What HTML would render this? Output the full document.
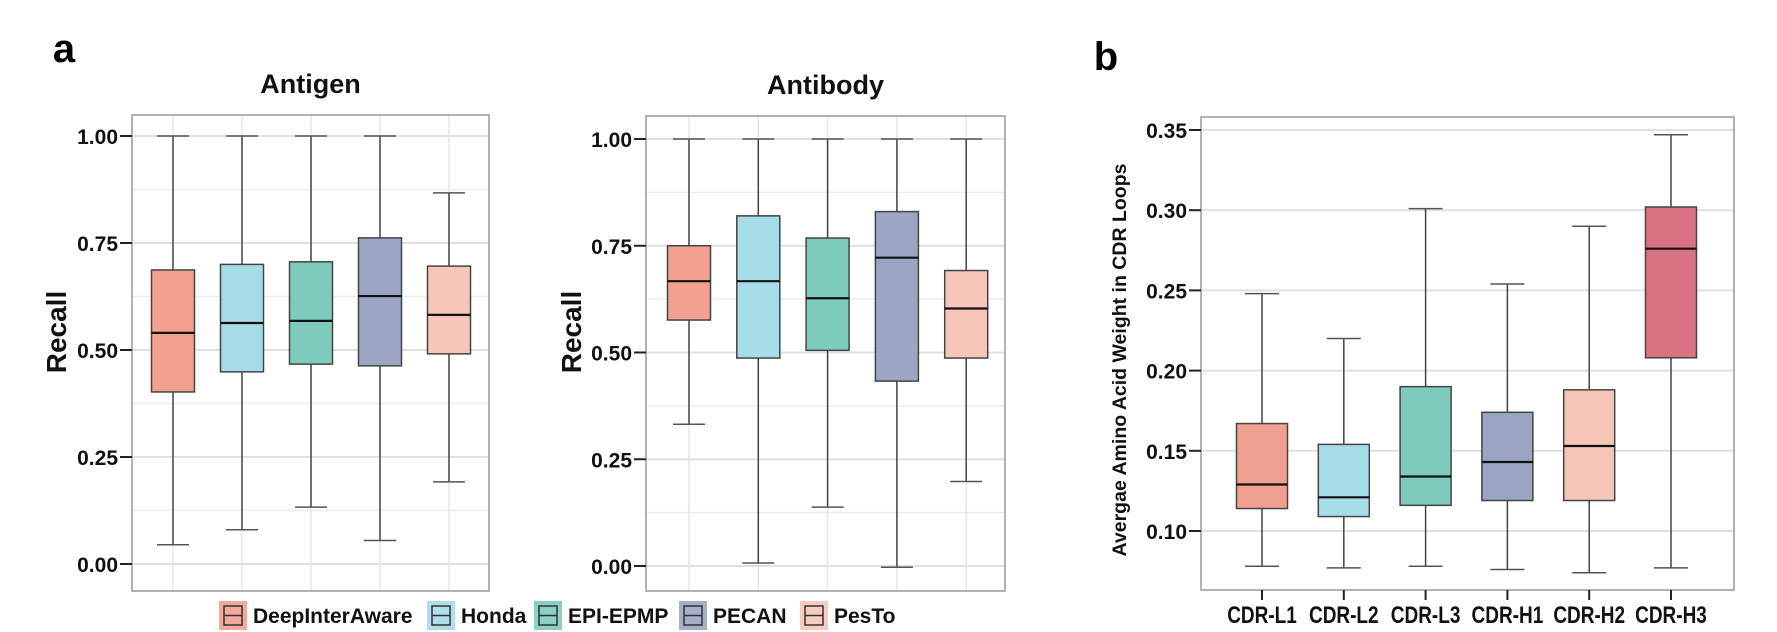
<!DOCTYPE html>
<html><head><meta charset="utf-8"><style>
html,body{margin:0;padding:0;background:#fff;}
svg{display:block;font-family:"Liberation Sans",Arial,sans-serif;}
</style></head><body>
<svg id="fig" width="1777" height="632" viewBox="0 0 1777 632">
<text x="64" y="62" font-size="40" font-weight="bold" text-anchor="middle">a</text>
<text x="1106" y="70" font-size="40" font-weight="bold" text-anchor="middle">b</text>
<g id="legend"></g>
</svg>
<script>
const methods = ["DeepInterAware","Honda","EPI-EPMP","PECAN","PesTo"];
const methodColors = ["#f2a090","#a5dce8","#7ecbbb","#9ca6c3","#f6c6b8"];
const antigenLow = [0.045,0.08,0.133,0.055,0.192];
const antigenQ1 = [0.402,0.449,0.467,0.463,0.491];
const antigenMed = [0.540,0.563,0.568,0.626,0.582];
const antigenQ3 = [0.687,0.700,0.706,0.762,0.696];
const antigenHigh = [1.0,1.0,1.0,1.0,0.867];
const antibodyLow = [0.332,0.007,0.138,-0.003,0.198];
const antibodyQ1 = [0.576,0.487,0.505,0.433,0.487];
const antibodyMed = [0.667,0.667,0.627,0.722,0.603];
const antibodyQ3 = [0.750,0.820,0.768,0.830,0.692];
const antibodyHigh = [1.0,1.0,1.0,1.0,1.0];
const recallTicks = [0,0.25,0.5,0.75,1.0];
const recallTickLabels = ["0.00","0.25","0.50","0.75","1.00"];
const cdrCats = ["CDR-L1","CDR-L2","CDR-L3","CDR-H1","CDR-H2","CDR-H3"];
const cdrColors = ["#f0a090","#a6dde8","#7ccbbb","#9aa5c2","#f5c6b8","#d97384"];
const cdrLow = [0.078,0.077,0.078,0.076,0.074,0.077];
const cdrQ1 = [0.114,0.109,0.116,0.119,0.119,0.208];
const cdrMed = [0.129,0.121,0.134,0.143,0.153,0.276];
const cdrQ3 = [0.167,0.154,0.190,0.174,0.188,0.302];
const cdrHigh = [0.248,0.220,0.301,0.254,0.290,0.347];
const cdrTicks = [0.10,0.15,0.20,0.25,0.30,0.35];
const cdrTickLabels = ["0.10","0.15","0.20","0.25","0.30","0.35"];

const NS="http://www.w3.org/2000/svg";
const svg=document.getElementById('fig');
function mk(tag,attrs,parent){const e=document.createElementNS(NS,tag);for(const k in attrs)e.setAttribute(k,attrs[k]);(parent||svg).appendChild(e);return e;}

function panel(o){
  const g=mk('g',{});
  
  
  const y=v=>o.y0+(v-o.vmin)*(o.y1-o.y0)/(o.vmax-o.vmin);
  const x=i=>o.xFirst+i*o.step;
  mk('rect',{x:o.L,y:o.T,width:o.R-o.L,height:o.B-o.T,fill:'#fff',stroke:'none'},g);
  if(o.minor){for(let i=0;i<o.minor.length;i++){mk('line',{x1:o.L,x2:o.R,y1:y(o.minor[i]),y2:y(o.minor[i]),stroke:'#ececec','stroke-width':1.5},g);}}
  for(let i=0;i<o.ticks.length;i++){mk('line',{x1:o.L,x2:o.R,y1:y(o.ticks[i]),y2:y(o.ticks[i]),stroke:'#e0e0e0','stroke-width':2},g);}
  if(o.vgrid){for(let i=0;i<o.low.length;i++){mk('line',{x1:x(i),x2:x(i),y1:o.T,y2:o.B,stroke:'#e6e6e6','stroke-width':1.5},g);}}
  for(let i=0;i<o.low.length;i++){
    const bg=mk('g',{},g);
    
    
    const cx=x(i),hw=o.bw/2,cw=o.cw/2;
    mk('line',{x1:cx,x2:cx,y1:y(o.high[i]),y2:y(o.q3[i]),stroke:'#444','stroke-width':1.5},bg);
    mk('line',{x1:cx,x2:cx,y1:y(o.q1[i]),y2:y(o.low[i]),stroke:'#444','stroke-width':1.5},bg);
    mk('line',{x1:cx-cw,x2:cx+cw,y1:y(o.high[i]),y2:y(o.high[i]),stroke:'#555','stroke-width':1.5},bg);
    mk('line',{x1:cx-cw,x2:cx+cw,y1:y(o.low[i]),y2:y(o.low[i]),stroke:'#555','stroke-width':1.5},bg);
    mk('rect',{x:cx-hw,y:y(o.q3[i]),width:o.bw,height:y(o.q1[i])-y(o.q3[i]),fill:o.colors[i],stroke:'#444','stroke-width':1.5},bg);
    mk('line',{x1:cx-hw,x2:cx+hw,y1:y(o.med[i]),y2:y(o.med[i]),stroke:'#111','stroke-width':2.2},bg);
  }
  mk('rect',{x:o.L,y:o.T,width:o.R-o.L,height:o.B-o.T,fill:'none',stroke:'#999','stroke-width':1.5},g);
  for(let i=0;i<o.ticks.length;i++){
    mk('line',{x1:o.L-12,x2:o.L,y1:y(o.ticks[i]),y2:y(o.ticks[i]),stroke:'#222','stroke-width':2},g);
    const t=mk('text',{x:o.L-14,y:y(o.ticks[i])+8,'font-size':21,'font-weight':'bold','text-anchor':'end',fill:'#111'},g);
    t.textContent=o.tickLabels[i];
    
    
  }
  if(o.xlabels){
    for(let i=0;i<o.cats.length;i++){
      mk('line',{x1:x(i),x2:x(i),y1:o.B,y2:o.B+10,stroke:'#222','stroke-width':2},g);
      const t=mk('text',{x:x(i),y:o.B+33,'font-size':20,'font-weight':'bold','text-anchor':'middle',fill:'#111',transform:`translate(${x(i)} ${o.B+33}) scale(0.95 1.2) translate(${-x(i)} ${-(o.B+33)})`},g);
      t.textContent=o.cats[i];
      
      
    }
  }
  if(o.title){
    const t=mk('text',{x:(o.L+o.R)/2,y:o.T-22,'font-size':27,'font-weight':'bold','text-anchor':'middle',fill:'#111'},g);
    t.textContent=o.title;
    
    
  }
  const yt=mk('text',{x:0,y:0,'font-size':o.ytSize,'font-weight':'bold','text-anchor':'middle',fill:'#111',transform:`translate(${o.ytX} ${o.ytY}) rotate(-90)`},g);
  yt.textContent=o.ytitle;
  
  
}

const minorA=[0.125,0.375,0.625,0.875];
panel({name:'antigen-chart',title:'Antigen',cats:methods,colors:methodColors,low:antigenLow,q1:antigenQ1,med:antigenMed,q3:antigenQ3,high:antigenHigh,
  L:132,R:489,T:115,B:591,vmin:0,vmax:1,y0:564,y1:136,xFirst:173,step:69,bw:43,cw:32,ticks:recallTicks,tickLabels:recallTickLabels,minor:minorA,vgrid:true,
  ytitle:'Recall',ytX:66,ytY:332,ytSize:28});
panel({name:'antibody-chart',title:'Antibody',cats:methods,colors:methodColors,low:antibodyLow,q1:antibodyQ1,med:antibodyMed,q3:antibodyQ3,high:antibodyHigh,
  L:646,R:1005,T:116,B:591,vmin:0,vmax:1,y0:566,y1:139,xFirst:689,step:69.3,bw:43,cw:32,ticks:recallTicks,tickLabels:recallTickLabels,minor:minorA,vgrid:true,
  ytitle:'Recall',ytX:581,ytY:332,ytSize:28});
panel({name:'cdr-weight-chart',cats:cdrCats,colors:cdrColors,low:cdrLow,q1:cdrQ1,med:cdrMed,q3:cdrQ3,high:cdrHigh,
  L:1201,R:1734,T:117,B:590,vmin:0.10,vmax:0.35,y0:531,y1:130,xFirst:1262,step:81.8,bw:51,cw:34,ticks:cdrTicks,tickLabels:cdrTickLabels,vgrid:false,xlabels:true,
  ytitle:'Avergae Amino Acid Weight in CDR Loops',ytX:1126,ytY:360,ytSize:19.5});

const leg=document.getElementById('legend');
const legX=[219,427,534,679,800];
for(let i=0;i<methods.length;i++){
  const e=mk('g',{},leg);
  
  
  mk('rect',{x:legX[i],y:601,width:28,height:29,fill:methodColors[i],opacity:0.9},e);
  mk('rect',{x:legX[i]+5,y:606,width:18,height:19,fill:'none',stroke:'#333','stroke-width':1.5},e);
  mk('line',{x1:legX[i]+5,x2:legX[i]+23,y1:615.5,y2:615.5,stroke:'#333','stroke-width':1.5},e);
  const t=mk('text',{x:legX[i]+34,y:623,'font-size':21,'font-weight':'bold',fill:'#111'},e);
  t.textContent=methods[i];
}
</script>
</body></html>
